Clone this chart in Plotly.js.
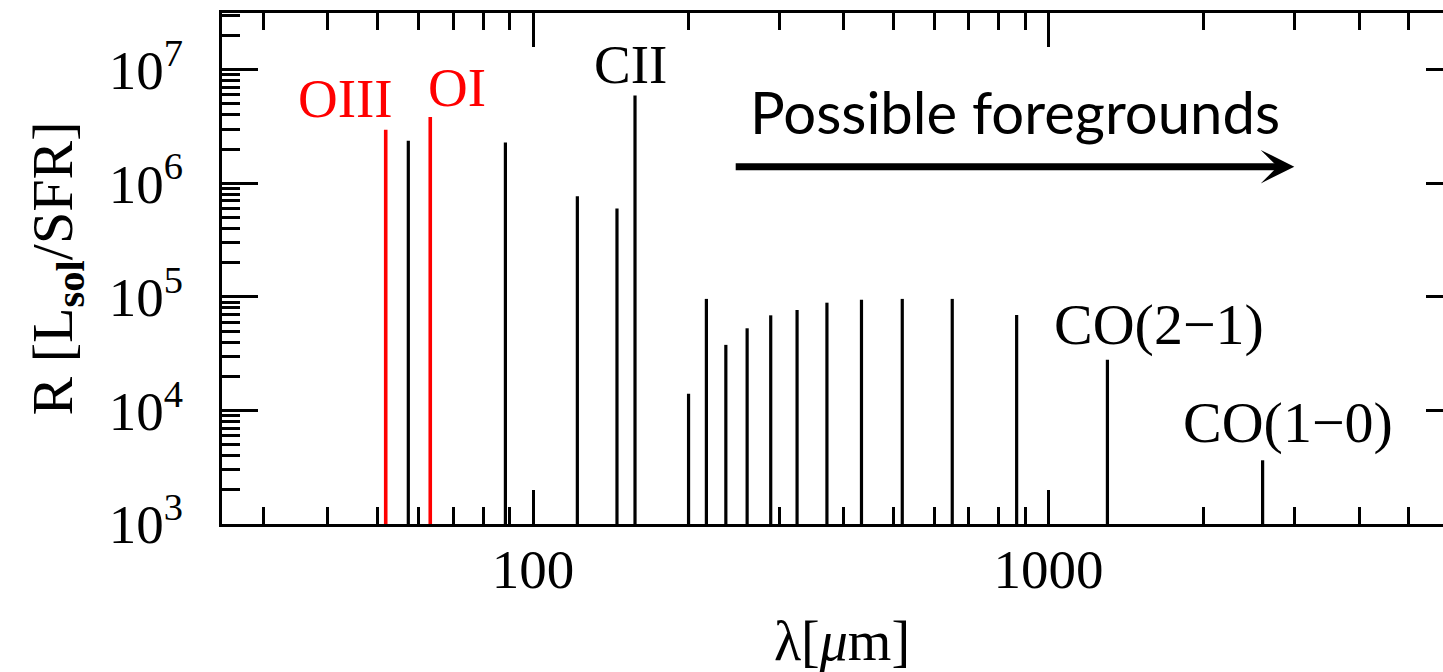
<!DOCTYPE html>
<html><head><meta charset="utf-8">
<script src="https://cdn.plot.ly/plotly-3.0.1.min.js"></script>
<style>html,body{margin:0;padding:0;overflow:hidden;background:#fff}#chart{width:1480px;height:672px}</style>
</head><body><div id="chart"></div><script>
// ---- data ----
const lineIds = ['OIII 52','NIII 57','OI 63','OIII 88','NII 122','OI 145','CII 158',
  'CO(13-12)','CO(12-11)','CO(11-10)','CO(10-9)','CO(9-8)','CO(8-7)','CO(7-6)',
  'CO(6-5)','CO(5-4)','CO(4-3)','CO(3-2)','CO(2-1)','CO(1-0)'];
const lineLambda = [51.8, 57.3, 63.2, 88.4, 121.9, 145.5, 157.7,
  200.3, 216.9, 236.6, 260.2, 289.1, 325.2, 371.6, 433.6, 520.2, 650.3, 867.0, 1300.4, 2600.8];
const lineR = [2.96e6, 2.37e6, 3.84e6, 2.29e6, 7.7e5, 6.0e5, 5.94e6,
  1.40e4, 9.6e4, 3.78e4, 5.29e4, 6.88e4, 7.67e4, 8.89e4, 9.44e4, 9.6e4, 9.6e4, 6.93e4, 2.79e4, 3.64e3];
const highlightIds = ['OIII 52', 'OI 63'];
const baseR = 1e3;

const xTickVals = [100, 1000];
const xTickText = ['100', '1000'];
const yTickVals = [1e3, 1e4, 1e5, 1e6, 1e7];
const yTickText = ['10<sup>3</sup>', '10<sup>4</sup>', '10<sup>5</sup>', '10<sup>6</sup>', '10<sup>7</sup>'];

const labelOIII = 'OIII';
const labelOI = 'OI';
const labelCII = 'CII';
const labelCO21 = 'CO(2\u22121)';
const labelCO10 = 'CO(1\u22120)';
const labelFore = 'Possible foregrounds';
const xTitle = '\u03bb[<i>\u03bc</i>m]';
const yTitle = 'R [L<sub><b>sol</b></sub>/SFR]';

// ---- build traces ----
function stems(sel) {
  const x = [], y = [];
  lineIds.forEach((id, i) => {
    if (sel(id)) { x.push(lineLambda[i], lineLambda[i], null); y.push(baseR, lineR[i], null); }
  });
  return {x, y};
}
const blk = stems(id => !highlightIds.includes(id));
const red = stems(id => highlightIds.includes(id));
const traces = [
  {x: blk.x, y: blk.y, mode: 'lines', line: {color: '#000', width: 3.2}, hoverinfo: 'skip', showlegend: false},
  {x: red.x, y: red.y, mode: 'lines', line: {color: '#ff0000', width: 3.6}, hoverinfo: 'skip', showlegend: false}
];

// ---- axis scale ticks ----
const xRange = [1.3968, 3.8018], yRange = [3, 7.5];
function minorTicks(lo, hi, decades) {
  const out = [];
  decades.forEach(d => { for (let m = 2; m <= 9; m++) { const v = m * d; if (v > lo && v < hi) out.push(v); } });
  return out;
}
const xMinor = minorTicks(Math.pow(10, xRange[0]), Math.pow(10, xRange[1]), [10, 100, 1000]);
const yMinor = minorTicks(Math.pow(10, yRange[0]), Math.pow(10, yRange[1]), [1e3, 1e4, 1e5, 1e6, 1e7]);

const W = 1480, H = 672, ML = 222, MR = 18, MT = 13, MB = 148;
const PW = W - ML - MR, PH = H - MT - MB;
const px = p => (p - ML) / PW;
const py = p => (H - MB - p) / PH;

const serif = 'Liberation Serif';
const tickFont = {family: serif, size: 55, color: '#000'};

function lab(text, x, y, color, size, fam) {
  return {text, xref: 'paper', yref: 'paper', x: px(x), y: py(y), xanchor: 'center', yanchor: 'middle',
    showarrow: false, font: {family: fam || serif, size: size || 55, color: color || '#000'}};
}

const layout = {
  width: W, height: H,
  margin: {l: ML, r: MR, t: MT, b: MB, pad: 0},
  paper_bgcolor: '#fff', plot_bgcolor: '#fff',
  showlegend: false,
  xaxis: {
    type: 'log', range: xRange, showgrid: false, zeroline: false,
    showline: true, linecolor: '#000', linewidth: 3, mirror: 'allticks',
    ticks: 'inside', ticklen: 34, tickwidth: 3, tickcolor: '#000',
    tickmode: 'array', tickvals: xTickVals, ticktext: xTickText,
    tickfont: tickFont, ticklabelstandoff: -5,
    minor: {tickmode: 'array', tickvals: xMinor, ticks: 'inside', ticklen: 17, tickwidth: 3, tickcolor: '#000', showgrid: false},
    title: {text: xTitle, font: {family: serif, size: 56, color: '#000'}, standoff: 40}
  },
  yaxis: {
    type: 'log', range: yRange, showgrid: false, zeroline: false,
    showline: true, linecolor: '#000', linewidth: 3, mirror: 'allticks',
    ticks: 'inside', ticklen: 36, tickwidth: 3, tickcolor: '#000',
    tickmode: 'array', tickvals: yTickVals, ticktext: yTickText,
    tickfont: tickFont, ticklabelstandoff: 25,
    minor: {tickmode: 'array', tickvals: yMinor, ticks: 'inside', ticklen: 18, tickwidth: 3, tickcolor: '#000', showgrid: false},
    title: {text: yTitle, font: {family: serif, size: 58, color: '#000'}, standoff: 18}
  },
  annotations: [
    lab(labelOIII, 345.8, 98.5, '#ff0000'),
    lab(labelOI, 457, 87, '#ff0000'),
    lab(labelCII, 630, 64.7),
    lab(labelCO21, 1159, 324.5, '#000', 58),
    lab(labelCO10, 1288, 422.5, '#000', 58),
    lab(labelFore, 1015, 111, '#000', 58, 'Lato'),
    {text: ' ', xref: 'paper', yref: 'paper', x: px(1294.3), y: py(166.7), axref: 'pixel', ayref: 'pixel',
     ax: -561.6, ay: 0, showarrow: true, arrowhead: 3, arrowsize: 0.8, arrowwidth: 7, arrowcolor: '#000', standoff: 0}
  ]
};

Plotly.newPlot('chart', traces, layout, {staticPlot: true, displayModeBar: false});
</script></body></html>
